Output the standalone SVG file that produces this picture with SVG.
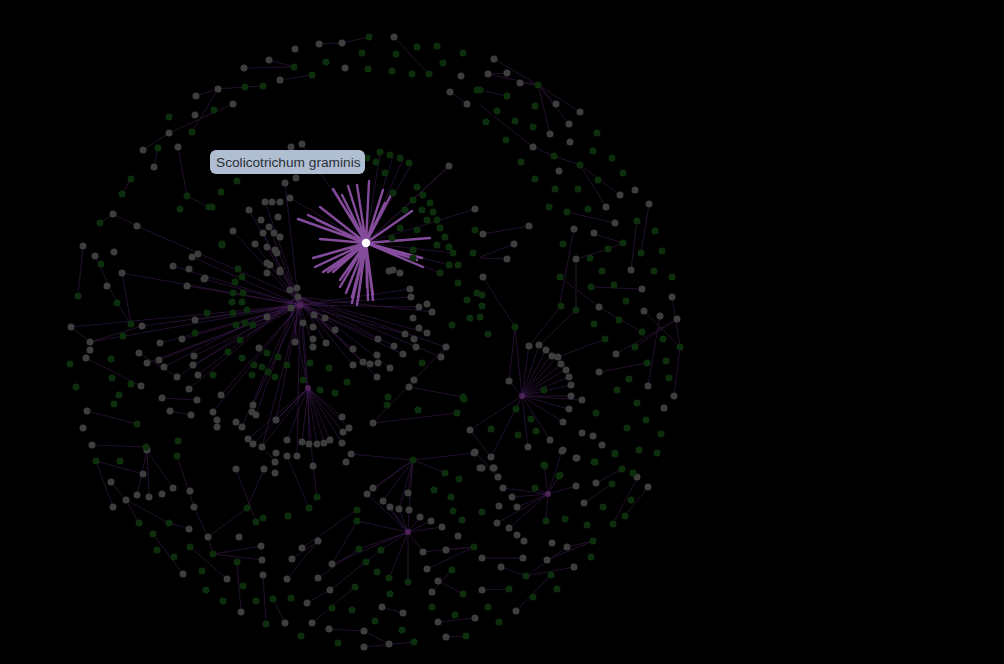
<svg xmlns="http://www.w3.org/2000/svg" width="1004" height="664" viewBox="0 0 1004 664">
<style>
.e{fill:none;stroke:#24102b;stroke-width:1}
.e2{fill:none;stroke:#4a2060;stroke-width:1;stroke-opacity:.48}
.h{fill:none;stroke:#a05cbc;stroke-width:2.4;stroke-opacity:.82;stroke-linecap:round}
.a circle{fill:#3e3e3e}
.b circle{fill:#0d2e0d}
.p circle{fill:#4e2458}
.lbl{font-family:"Liberation Sans",Arial,sans-serif;font-size:13.7px;fill:#2b2f36}
</style>
<rect width="1004" height="664" fill="#000"/>
<g id="connectors">
<path class="e" d="M244 68L294 67M319 44L342 43M342 43L369 37M218 89L245 87M196 96L218 89M218 89L192 132M233 104L169 133M169 133L143 150M178 147L187 196M187 196L209 207M113 214L100 223M113 214L137 226M394 37L427 72M450 92L467 104M449 166L366 243M494 59L538 85M488 74L538 85M507 73L488 74M520 83L538 85M538 85L580 112M538 85L569 124M538 85L550 134M538 85L556 104M480 90L507 96M480 105L533 147M533 147L554 156M554 156L580 165M580 165L620 195M580 165L606 207M567 212L615 223M529 226L483 234M649 204L641 253M637 221L631 270M480 257L514 244M480 258L507 259M483 277L515 327M515 327L509 381M574 229L560 303M576 259L576 310M576 259L608 249M608 249L623 243M594 234L623 243M591 287L642 289M560 277L599 307M599 307L642 332M529 346L561 306M539 346L576 310M558 357L605 339M616 354L677 319M635 347L677 319M680 347L672 297M644 311L680 347M660 316L648 386M599 372L647 363M680 347L674 396M83 246L78 296M95 256L117 303M122 273L131 324M117 303L131 324M71 327L90 342M90 342L142 326M86 358L141 386M139 353L177 377M87 411L137 424M92 445L146 447M96 461L143 474M96 461L113 507M147 450L137 495M147 450L149 497M147 450L173 488M111 482L126 500M126 500L139 523M126 500L169 523M169 523L189 529M177 456L194 507M194 507L208 537M208 537L213 554M213 554L261 546M213 554L262 560M208 537L247 508M247 508L264 469M153 534L183 574M190 547L227 579M237 562L241 612M263 575L266 624M236 469L256 522M313 466L317 497M287 456L309 508M302 548L357 510M332 564L357 521M318 578L359 549M330 590L381 550M382 607L403 613M364 631L389 644M364 647L414 642M329 629L364 631M285 623L273 599M312 623L355 587M423 552L474 547M446 550L474 547M427 569L474 547M438 581L463 594M438 622L475 618M446 637L466 636M432 592L452 570M516 611L551 575M526 576L567 547M567 547L593 541M526 576L574 567M547 560L593 541M596 483L622 469M613 524L637 478M625 516L648 487M584 503L612 484M292 559L318 541M287 579L318 541M307 603L330 590M262 447L275 461M196 400L162 398M170 411L191 415M482 558L523 558M482 590L509 589M501 567L526 576M475 452L498 477M470 430L491 457M441 357L446 347M414 380L446 347M409 387L463 397M373 423L414 380M373 423L457 413M122 194L131 179M154 167L158 148M245 87L263 86M280 80L312 75M269 60L294 67"/>
<path class="e2" d="M300 305L195 320M300 305L182 339M300 305L160 343M300 305L142 326M300 305L173 266M300 305L192 257M300 305L204 279M300 305L187 286M300 305L221 395M300 305L213 412M300 305L253 405M300 305L194 356M300 305L193 365M300 305L159 360M300 305L147 363M300 305L90 342M300 305L71 327M300 305L122 273M300 305L233 231M300 305L263 233M300 305L269 227M300 305L255 244M300 305L267 247M300 305L262 447M300 305L276 420M300 305L313 466M300 305L297 456M300 305L335 330M300 305L353 349M300 305L378 339M300 305L403 354M300 305L405 334M300 305L419 307M300 305L411 297M300 305L410 289M298 297L249 210M298 297L265 202M298 297L285 183M298 297L137 226M298 297L164 367M298 297L177 377M298 297L198 375M298 297L189 389M298 297L242 427M298 297L256 415M298 297L377 377M298 297L390 368M298 297L394 346M298 297L427 333M298 297L432 312M298 297L446 347M298 297L441 357M298 297L363 362M298 297L353 365M298 297L326 343M298 297L313 347M298 297L295 342M308 388L287 440M308 388L302 442M308 388L309 444M308 388L317 444M308 388L324 443M308 388L330 440M308 388L342 443M308 388L343 432M308 388L349 428M308 388L342 417M308 388L276 420M308 388L262 447M308 388L253 444M308 388L248 439M308 388L303 323M308 388L291 308M522 396L529 346M522 396L539 345M522 396L546 350M522 396L551 355M522 396L558 356M522 396L561 364M522 396L566 369M522 396L569 377M522 396L571 385M522 396L571 396M522 396L582 400M522 396L569 409M522 396L563 422M522 396L509 381M522 396L515 327M522 396L470 430M522 396L528 447M522 396L550 440M522 396L491 457M408 532L367 494M408 532L383 501M408 532L390 507M408 532L399 509M408 532L409 510M408 532L420 517M408 532L431 521M408 532L442 527M408 532L423 552M408 532L359 549M408 532L381 550M408 532L389 578M408 532L408 582M408 532L357 521M408 532L332 564M413 460L373 488M413 460L383 501M413 460L399 509M413 460L409 510M413 460L408 493M413 460L367 494M413 460L351 454M413 460L474 453M413 460L445 473M548 494L535 488M548 494L503 488M548 494L576 486M548 494L559 476M548 494L544 465M548 494L512 497M548 494L517 507M548 494L562 451M548 494L546 521M548 494L509 528M548 494L497 523M366 243L380 153M366 243L393 156M366 243L403 159M366 243L411 165M366 243L449 166M366 243L453 253M366 243L449 265M366 243L440 273M366 243L475 209M366 243L302 144M366 243L290 198"/>
<path class="h" d="M366 243L369 181M366 243L357 185M366 243L348 186M366 243L333 189M366 243L342 195M366 243L383 190M366 243L393 191M366 243L385 203M366 243L320 207M366 243L412 211M366 243L298 219M366 243L308 215M366 243L317 220M366 243L430 238M366 243L320 239M366 243L422 258M366 243L423 267M366 243L313 258M366 243L315 267M366 243L323 272M366 243L333 272M366 243L340 287M366 243L352 297M366 243L357 305M366 243L368 300M366 243L373 300M366 243L367 287M366 243L352 303M366 243L358 300M366 243L373 295M366 243L346 293M366 243L340 280M366 243L317 257M366 243L328 272M366 243L417 260"/>
</g>
<g id="nodes">
<g id="g1" class="a"><circle cx="295" cy="49" r="3.5"/></g>
<g id="g2" class="a"><circle cx="319" cy="44" r="3.5"/></g>
<g id="g3" class="a"><circle cx="342" cy="43" r="3.5"/></g>
<g id="g4" class="a"><circle cx="269" cy="60" r="3.5"/></g>
<g id="g5" class="a"><circle cx="244" cy="68" r="3.5"/></g>
<g id="g6" class="a"><circle cx="345" cy="68" r="3.5"/></g>
<g id="g7" class="a"><circle cx="280" cy="80" r="3.5"/></g>
<g id="g8" class="a"><circle cx="218" cy="89" r="3.5"/></g>
<g id="g9" class="a"><circle cx="196" cy="96" r="3.5"/></g>
<g id="g10" class="a"><circle cx="233" cy="104" r="3.5"/></g>
<g id="g11" class="a"><circle cx="195" cy="115" r="3.5"/></g>
<g id="g12" class="a"><circle cx="169" cy="133" r="3.5"/></g>
<g id="g13" class="a"><circle cx="143" cy="150" r="3.5"/></g>
<g id="g14" class="a"><circle cx="178" cy="147" r="3.5"/></g>
<g id="g15" class="a"><circle cx="154" cy="167" r="3.5"/></g>
<g id="g16" class="a"><circle cx="113" cy="214" r="3.5"/></g>
<g id="g17" class="a"><circle cx="137" cy="226" r="3.5"/></g>
<g id="g18" class="a"><circle cx="291" cy="147" r="3.5"/></g>
<g id="g19" class="a"><circle cx="302" cy="144" r="3.5"/></g>
<g id="g20" class="a"><circle cx="285" cy="183" r="3.5"/></g>
<g id="g21" class="a"><circle cx="296" cy="178" r="3.5"/></g>
<g id="g22" class="a"><circle cx="265" cy="202" r="3.5"/></g>
<g id="g23" class="a"><circle cx="272" cy="202" r="3.5"/></g>
<g id="g24" class="a"><circle cx="280" cy="202" r="3.5"/></g>
<g id="g25" class="a"><circle cx="290" cy="198" r="3.5"/></g>
<g id="g26" class="a"><circle cx="249" cy="210" r="3.5"/></g>
<g id="g27" class="a"><circle cx="261" cy="220" r="3.5"/></g>
<g id="g28" class="a"><circle cx="278" cy="217" r="3.5"/></g>
<g id="g29" class="a"><circle cx="394" cy="37" r="3.5"/></g>
<g id="g30" class="a"><circle cx="461" cy="76" r="3.5"/></g>
<g id="g31" class="a"><circle cx="450" cy="92" r="3.5"/></g>
<g id="g32" class="a"><circle cx="467" cy="104" r="3.5"/></g>
<g id="g33" class="a"><circle cx="449" cy="166" r="3.5"/></g>
<g id="g34" class="a"><circle cx="475" cy="209" r="3.5"/></g>
<g id="g35" class="a"><circle cx="494" cy="59" r="3.5"/></g>
<g id="g36" class="a"><circle cx="488" cy="74" r="3.5"/></g>
<g id="g37" class="a"><circle cx="507" cy="73" r="3.5"/></g>
<g id="g38" class="a"><circle cx="520" cy="83" r="3.5"/></g>
<g id="g39" class="a"><circle cx="556" cy="104" r="3.5"/></g>
<g id="g40" class="a"><circle cx="580" cy="112" r="3.5"/></g>
<g id="g41" class="a"><circle cx="569" cy="124" r="3.5"/></g>
<g id="g42" class="a"><circle cx="550" cy="134" r="3.5"/></g>
<g id="g43" class="a"><circle cx="570" cy="142" r="3.5"/></g>
<g id="g44" class="a"><circle cx="533" cy="147" r="3.5"/></g>
<g id="g45" class="a"><circle cx="559" cy="171" r="3.5"/></g>
<g id="g46" class="a"><circle cx="620" cy="195" r="3.5"/></g>
<g id="g47" class="a"><circle cx="635" cy="190" r="3.5"/></g>
<g id="g48" class="a"><circle cx="649" cy="204" r="3.5"/></g>
<g id="g49" class="a"><circle cx="606" cy="207" r="3.5"/></g>
<g id="g50" class="a"><circle cx="615" cy="223" r="3.5"/></g>
<g id="g51" class="a"><circle cx="529" cy="226" r="3.5"/></g>
<g id="g52" class="a"><circle cx="574" cy="229" r="3.5"/></g>
<g id="g53" class="a"><circle cx="594" cy="233" r="3.5"/></g>
<g id="g54" class="a"><circle cx="483" cy="234" r="3.5"/></g>
<g id="g55" class="a"><circle cx="514" cy="244" r="3.5"/></g>
<g id="g56" class="a"><circle cx="507" cy="259" r="3.5"/></g>
<g id="g57" class="a"><circle cx="576" cy="259" r="3.5"/></g>
<g id="g58" class="a"><circle cx="631" cy="270" r="3.5"/></g>
<g id="g59" class="a"><circle cx="642" cy="289" r="3.5"/></g>
<g id="g60" class="a"><circle cx="483" cy="277" r="3.5"/></g>
<g id="g61" class="a"><circle cx="599" cy="307" r="3.5"/></g>
<g id="g62" class="a"><circle cx="672" cy="297" r="3.5"/></g>
<g id="g63" class="a"><circle cx="644" cy="311" r="3.5"/></g>
<g id="g64" class="a"><circle cx="660" cy="316" r="3.5"/></g>
<g id="g65" class="a"><circle cx="677" cy="319" r="3.5"/></g>
<g id="g66" class="a"><circle cx="616" cy="354" r="3.5"/></g>
<g id="g67" class="a"><circle cx="599" cy="372" r="3.5"/></g>
<g id="g68" class="a"><circle cx="648" cy="386" r="3.5"/></g>
<g id="g69" class="a"><circle cx="674" cy="396" r="3.5"/></g>
<g id="g70" class="a"><circle cx="664" cy="408" r="3.5"/></g>
<g id="g71" class="a"><circle cx="509" cy="381" r="3.5"/></g>
<g id="g72" class="a"><circle cx="529" cy="346" r="3.5"/></g>
<g id="g73" class="a"><circle cx="539" cy="345" r="3.5"/></g>
<g id="g74" class="a"><circle cx="546" cy="350" r="3.5"/></g>
<g id="g75" class="a"><circle cx="552" cy="356" r="3.5"/></g>
<g id="g76" class="a"><circle cx="558" cy="357" r="3.5"/></g>
<g id="g77" class="a"><circle cx="561" cy="364" r="3.5"/></g>
<g id="g78" class="a"><circle cx="566" cy="370" r="3.5"/></g>
<g id="g79" class="a"><circle cx="569" cy="377" r="3.5"/></g>
<g id="g80" class="a"><circle cx="571" cy="385" r="3.5"/></g>
<g id="g81" class="a"><circle cx="571" cy="396" r="3.5"/></g>
<g id="g82" class="a"><circle cx="582" cy="400" r="3.5"/></g>
<g id="g83" class="a"><circle cx="569" cy="409" r="3.5"/></g>
<g id="g84" class="a"><circle cx="563" cy="422" r="3.5"/></g>
<g id="g85" class="a"><circle cx="470" cy="430" r="3.5"/></g>
<g id="g86" class="a"><circle cx="550" cy="440" r="3.5"/></g>
<g id="g87" class="a"><circle cx="528" cy="447" r="3.5"/></g>
<g id="g88" class="a"><circle cx="582" cy="433" r="3.5"/></g>
<g id="g89" class="a"><circle cx="593" cy="436" r="3.5"/></g>
<g id="g90" class="a"><circle cx="602" cy="445" r="3.5"/></g>
<g id="g91" class="a"><circle cx="563" cy="450" r="3.5"/></g>
<g id="g92" class="a"><circle cx="576" cy="458" r="3.5"/></g>
<g id="g93" class="a"><circle cx="475" cy="452" r="3.5"/></g>
<g id="g94" class="a"><circle cx="491" cy="457" r="3.5"/></g>
<g id="g95" class="a"><circle cx="480" cy="468" r="3.5"/></g>
<g id="g96" class="a"><circle cx="494" cy="468" r="3.5"/></g>
<g id="g97" class="a"><circle cx="498" cy="477" r="3.5"/></g>
<g id="g98" class="a"><circle cx="637" cy="477" r="3.5"/></g>
<g id="g99" class="a"><circle cx="83" cy="246" r="3.5"/></g>
<g id="g100" class="a"><circle cx="95" cy="256" r="3.5"/></g>
<g id="g101" class="a"><circle cx="114" cy="252" r="3.5"/></g>
<g id="g102" class="a"><circle cx="122" cy="273" r="3.5"/></g>
<g id="g103" class="a"><circle cx="107" cy="286" r="3.5"/></g>
<g id="g104" class="a"><circle cx="71" cy="327" r="3.5"/></g>
<g id="g105" class="a"><circle cx="90" cy="342" r="3.5"/></g>
<g id="g106" class="a"><circle cx="90" cy="350" r="3.5"/></g>
<g id="g107" class="a"><circle cx="86" cy="358" r="3.5"/></g>
<g id="g108" class="a"><circle cx="142" cy="326" r="3.5"/></g>
<g id="g109" class="a"><circle cx="139" cy="353" r="3.5"/></g>
<g id="g110" class="a"><circle cx="147" cy="363" r="3.5"/></g>
<g id="g111" class="a"><circle cx="160" cy="343" r="3.5"/></g>
<g id="g112" class="a"><circle cx="159" cy="360" r="3.5"/></g>
<g id="g113" class="a"><circle cx="164" cy="367" r="3.5"/></g>
<g id="g114" class="a"><circle cx="177" cy="377" r="3.5"/></g>
<g id="g115" class="a"><circle cx="182" cy="339" r="3.5"/></g>
<g id="g116" class="a"><circle cx="141" cy="386" r="3.5"/></g>
<g id="g117" class="a"><circle cx="195" cy="320" r="3.5"/></g>
<g id="g118" class="a"><circle cx="194" cy="356" r="3.5"/></g>
<g id="g119" class="a"><circle cx="193" cy="365" r="3.5"/></g>
<g id="g120" class="a"><circle cx="198" cy="375" r="3.5"/></g>
<g id="g121" class="a"><circle cx="189" cy="389" r="3.5"/></g>
<g id="g122" class="a"><circle cx="197" cy="400" r="3.5"/></g>
<g id="g123" class="a"><circle cx="162" cy="398" r="3.5"/></g>
<g id="g124" class="a"><circle cx="170" cy="411" r="3.5"/></g>
<g id="g125" class="a"><circle cx="191" cy="415" r="3.5"/></g>
<g id="g126" class="a"><circle cx="87" cy="411" r="3.5"/></g>
<g id="g127" class="a"><circle cx="83" cy="428" r="3.5"/></g>
<g id="g128" class="a"><circle cx="92" cy="445" r="3.5"/></g>
<g id="g129" class="a"><circle cx="173" cy="266" r="3.5"/></g>
<g id="g130" class="a"><circle cx="192" cy="257" r="3.5"/></g>
<g id="g131" class="a"><circle cx="198" cy="254" r="3.5"/></g>
<g id="g132" class="a"><circle cx="189" cy="269" r="3.5"/></g>
<g id="g133" class="a"><circle cx="204" cy="279" r="3.5"/></g>
<g id="g134" class="a"><circle cx="187" cy="286" r="3.5"/></g>
<g id="g135" class="a"><circle cx="221" cy="395" r="3.5"/></g>
<g id="g136" class="a"><circle cx="213" cy="412" r="3.5"/></g>
<g id="g137" class="a"><circle cx="217" cy="420" r="3.5"/></g>
<g id="g138" class="a"><circle cx="217" cy="427" r="3.5"/></g>
<g id="g139" class="a"><circle cx="236" cy="422" r="3.5"/></g>
<g id="g140" class="a"><circle cx="242" cy="427" r="3.5"/></g>
<g id="g141" class="a"><circle cx="253" cy="405" r="3.5"/></g>
<g id="g142" class="a"><circle cx="252" cy="412" r="3.5"/></g>
<g id="g143" class="a"><circle cx="256" cy="415" r="3.5"/></g>
<g id="g144" class="a"><circle cx="248" cy="439" r="3.5"/></g>
<g id="g145" class="a"><circle cx="253" cy="444" r="3.5"/></g>
<g id="g146" class="a"><circle cx="259" cy="348" r="3.5"/></g>
<g id="g147" class="a"><circle cx="255" cy="244" r="3.5"/></g>
<g id="g148" class="a"><circle cx="267" cy="247" r="3.5"/></g>
<g id="g149" class="a"><circle cx="267" cy="263" r="3.5"/></g>
<g id="g150" class="a"><circle cx="267" cy="273" r="3.5"/></g>
<g id="g151" class="a"><circle cx="267" cy="317" r="3.5"/></g>
<g id="g152" class="a"><circle cx="262" cy="447" r="3.5"/></g>
<g id="g153" class="a"><circle cx="233" cy="231" r="3.5"/></g>
<g id="g154" class="a"><circle cx="263" cy="233" r="3.5"/></g>
<g id="g155" class="a"><circle cx="274" cy="233" r="3.5"/></g>
<g id="g156" class="a"><circle cx="280" cy="237" r="3.5"/></g>
<g id="g157" class="a"><circle cx="277" cy="253" r="3.5"/></g>
<g id="g158" class="a"><circle cx="280" cy="270" r="3.5"/></g>
<g id="g159" class="a"><circle cx="297" cy="288" r="3.5"/></g>
<g id="g160" class="a"><circle cx="205" cy="278" r="3.5"/></g>
<g id="g161" class="a"><circle cx="393" cy="270" r="3.5"/></g>
<g id="g162" class="a"><circle cx="400" cy="273" r="3.5"/></g>
<g id="g163" class="a"><circle cx="290" cy="290" r="3.5"/></g>
<g id="g164" class="a"><circle cx="269" cy="227" r="3.5"/></g>
<g id="g165" class="a"><circle cx="298" cy="297" r="3.5"/></g>
<g id="g166" class="a"><circle cx="291" cy="308" r="3.5"/></g>
<g id="g167" class="a"><circle cx="303" cy="323" r="3.5"/></g>
<g id="g168" class="a"><circle cx="314" cy="315" r="3.5"/></g>
<g id="g169" class="a"><circle cx="325" cy="318" r="3.5"/></g>
<g id="g170" class="a"><circle cx="313" cy="327" r="3.5"/></g>
<g id="g171" class="a"><circle cx="335" cy="330" r="3.5"/></g>
<g id="g172" class="a"><circle cx="295" cy="342" r="3.5"/></g>
<g id="g173" class="a"><circle cx="313" cy="339" r="3.5"/></g>
<g id="g174" class="a"><circle cx="313" cy="347" r="3.5"/></g>
<g id="g175" class="a"><circle cx="326" cy="343" r="3.5"/></g>
<g id="g176" class="a"><circle cx="353" cy="349" r="3.5"/></g>
<g id="g177" class="a"><circle cx="378" cy="339" r="3.5"/></g>
<g id="g178" class="a"><circle cx="377" cy="355" r="3.5"/></g>
<g id="g179" class="a"><circle cx="353" cy="365" r="3.5"/></g>
<g id="g180" class="a"><circle cx="363" cy="362" r="3.5"/></g>
<g id="g181" class="a"><circle cx="370" cy="364" r="3.5"/></g>
<g id="g182" class="a"><circle cx="378" cy="363" r="3.5"/></g>
<g id="g183" class="a"><circle cx="390" cy="368" r="3.5"/></g>
<g id="g184" class="a"><circle cx="394" cy="346" r="3.5"/></g>
<g id="g185" class="a"><circle cx="377" cy="377" r="3.5"/></g>
<g id="g186" class="a"><circle cx="403" cy="354" r="3.5"/></g>
<g id="g187" class="a"><circle cx="405" cy="334" r="3.5"/></g>
<g id="g188" class="a"><circle cx="414" cy="339" r="3.5"/></g>
<g id="g189" class="a"><circle cx="416" cy="347" r="3.5"/></g>
<g id="g190" class="a"><circle cx="419" cy="328" r="3.5"/></g>
<g id="g191" class="a"><circle cx="427" cy="333" r="3.5"/></g>
<g id="g192" class="a"><circle cx="413" cy="318" r="3.5"/></g>
<g id="g193" class="a"><circle cx="419" cy="307" r="3.5"/></g>
<g id="g194" class="a"><circle cx="427" cy="304" r="3.5"/></g>
<g id="g195" class="a"><circle cx="432" cy="312" r="3.5"/></g>
<g id="g196" class="a"><circle cx="411" cy="297" r="3.5"/></g>
<g id="g197" class="a"><circle cx="410" cy="289" r="3.5"/></g>
<g id="g198" class="a"><circle cx="389" cy="271" r="3.5"/></g>
<g id="g199" class="a"><circle cx="446" cy="347" r="3.5"/></g>
<g id="g200" class="a"><circle cx="441" cy="357" r="3.5"/></g>
<g id="g201" class="a"><circle cx="414" cy="380" r="3.5"/></g>
<g id="g202" class="a"><circle cx="409" cy="387" r="3.5"/></g>
<g id="g203" class="a"><circle cx="373" cy="423" r="3.5"/></g>
<g id="g204" class="a"><circle cx="342" cy="417" r="3.5"/></g>
<g id="g205" class="a"><circle cx="343" cy="432" r="3.5"/></g>
<g id="g206" class="a"><circle cx="349" cy="428" r="3.5"/></g>
<g id="g207" class="a"><circle cx="342" cy="443" r="3.5"/></g>
<g id="g208" class="a"><circle cx="330" cy="440" r="3.5"/></g>
<g id="g209" class="a"><circle cx="324" cy="443" r="3.5"/></g>
<g id="g210" class="a"><circle cx="317" cy="444" r="3.5"/></g>
<g id="g211" class="a"><circle cx="309" cy="444" r="3.5"/></g>
<g id="g212" class="a"><circle cx="302" cy="442" r="3.5"/></g>
<g id="g213" class="a"><circle cx="287" cy="440" r="3.5"/></g>
<g id="g214" class="a"><circle cx="276" cy="420" r="3.5"/></g>
<g id="g215" class="a"><circle cx="280" cy="272" r="3.5"/></g>
<g id="g216" class="a"><circle cx="270" cy="265" r="3.5"/></g>
<g id="g217" class="a"><circle cx="275" cy="250" r="3.5"/></g>
<g id="g218" class="a"><circle cx="143" cy="474" r="3.5"/></g>
<g id="g219" class="a"><circle cx="111" cy="482" r="3.5"/></g>
<g id="g220" class="a"><circle cx="126" cy="500" r="3.5"/></g>
<g id="g221" class="a"><circle cx="113" cy="507" r="3.5"/></g>
<g id="g222" class="a"><circle cx="137" cy="495" r="3.5"/></g>
<g id="g223" class="a"><circle cx="149" cy="497" r="3.5"/></g>
<g id="g224" class="a"><circle cx="162" cy="494" r="3.5"/></g>
<g id="g225" class="a"><circle cx="173" cy="488" r="3.5"/></g>
<g id="g226" class="a"><circle cx="190" cy="491" r="3.5"/></g>
<g id="g227" class="a"><circle cx="194" cy="507" r="3.5"/></g>
<g id="g228" class="a"><circle cx="189" cy="529" r="3.5"/></g>
<g id="g229" class="a"><circle cx="208" cy="537" r="3.5"/></g>
<g id="g230" class="a"><circle cx="239" cy="537" r="3.5"/></g>
<g id="g231" class="a"><circle cx="236" cy="469" r="3.5"/></g>
<g id="g232" class="a"><circle cx="264" cy="469" r="3.5"/></g>
<g id="g233" class="a"><circle cx="261" cy="546" r="3.5"/></g>
<g id="g234" class="a"><circle cx="262" cy="560" r="3.5"/></g>
<g id="g235" class="a"><circle cx="263" cy="575" r="3.5"/></g>
<g id="g236" class="a"><circle cx="227" cy="579" r="3.5"/></g>
<g id="g237" class="a"><circle cx="183" cy="574" r="3.5"/></g>
<g id="g238" class="a"><circle cx="241" cy="612" r="3.5"/></g>
<g id="g239" class="a"><circle cx="147" cy="450" r="3.5"/></g>
<g id="g240" class="a"><circle cx="276" cy="453" r="3.5"/></g>
<g id="g241" class="a"><circle cx="287" cy="456" r="3.5"/></g>
<g id="g242" class="a"><circle cx="297" cy="456" r="3.5"/></g>
<g id="g243" class="a"><circle cx="275" cy="462" r="3.5"/></g>
<g id="g244" class="a"><circle cx="275" cy="473" r="3.5"/></g>
<g id="g245" class="a"><circle cx="313" cy="466" r="3.5"/></g>
<g id="g246" class="a"><circle cx="351" cy="454" r="3.5"/></g>
<g id="g247" class="a"><circle cx="346" cy="462" r="3.5"/></g>
<g id="g248" class="a"><circle cx="367" cy="494" r="3.5"/></g>
<g id="g249" class="a"><circle cx="373" cy="488" r="3.5"/></g>
<g id="g250" class="a"><circle cx="383" cy="501" r="3.5"/></g>
<g id="g251" class="a"><circle cx="390" cy="507" r="3.5"/></g>
<g id="g252" class="a"><circle cx="399" cy="509" r="3.5"/></g>
<g id="g253" class="a"><circle cx="409" cy="510" r="3.5"/></g>
<g id="g254" class="a"><circle cx="408" cy="493" r="3.5"/></g>
<g id="g255" class="a"><circle cx="420" cy="517" r="3.5"/></g>
<g id="g256" class="a"><circle cx="431" cy="521" r="3.5"/></g>
<g id="g257" class="a"><circle cx="442" cy="527" r="3.5"/></g>
<g id="g258" class="a"><circle cx="458" cy="536" r="3.5"/></g>
<g id="g259" class="a"><circle cx="474" cy="453" r="3.5"/></g>
<g id="g260" class="a"><circle cx="318" cy="541" r="3.5"/></g>
<g id="g261" class="a"><circle cx="302" cy="548" r="3.5"/></g>
<g id="g262" class="a"><circle cx="292" cy="559" r="3.5"/></g>
<g id="g263" class="a"><circle cx="332" cy="564" r="3.5"/></g>
<g id="g264" class="a"><circle cx="318" cy="578" r="3.5"/></g>
<g id="g265" class="a"><circle cx="287" cy="579" r="3.5"/></g>
<g id="g266" class="a"><circle cx="330" cy="590" r="3.5"/></g>
<g id="g267" class="a"><circle cx="307" cy="603" r="3.5"/></g>
<g id="g268" class="a"><circle cx="285" cy="623" r="3.5"/></g>
<g id="g269" class="a"><circle cx="312" cy="623" r="3.5"/></g>
<g id="g270" class="a"><circle cx="329" cy="629" r="3.5"/></g>
<g id="g271" class="a"><circle cx="364" cy="631" r="3.5"/></g>
<g id="g272" class="a"><circle cx="364" cy="647" r="3.5"/></g>
<g id="g273" class="a"><circle cx="389" cy="644" r="3.5"/></g>
<g id="g274" class="a"><circle cx="382" cy="607" r="3.5"/></g>
<g id="g275" class="a"><circle cx="403" cy="613" r="3.5"/></g>
<g id="g276" class="a"><circle cx="423" cy="552" r="3.5"/></g>
<g id="g277" class="a"><circle cx="446" cy="550" r="3.5"/></g>
<g id="g278" class="a"><circle cx="427" cy="569" r="3.5"/></g>
<g id="g279" class="a"><circle cx="438" cy="581" r="3.5"/></g>
<g id="g280" class="a"><circle cx="432" cy="592" r="3.5"/></g>
<g id="g281" class="a"><circle cx="438" cy="622" r="3.5"/></g>
<g id="g282" class="a"><circle cx="446" cy="637" r="3.5"/></g>
<g id="g283" class="a"><circle cx="475" cy="618" r="3.5"/></g>
<g id="g284" class="a"><circle cx="482" cy="468" r="3.5"/></g>
<g id="g285" class="a"><circle cx="503" cy="488" r="3.5"/></g>
<g id="g286" class="a"><circle cx="512" cy="497" r="3.5"/></g>
<g id="g287" class="a"><circle cx="499" cy="506" r="3.5"/></g>
<g id="g288" class="a"><circle cx="517" cy="507" r="3.5"/></g>
<g id="g289" class="a"><circle cx="497" cy="523" r="3.5"/></g>
<g id="g290" class="a"><circle cx="509" cy="528" r="3.5"/></g>
<g id="g291" class="a"><circle cx="517" cy="535" r="3.5"/></g>
<g id="g292" class="a"><circle cx="524" cy="541" r="3.5"/></g>
<g id="g293" class="a"><circle cx="482" cy="558" r="3.5"/></g>
<g id="g294" class="a"><circle cx="523" cy="558" r="3.5"/></g>
<g id="g295" class="a"><circle cx="501" cy="567" r="3.5"/></g>
<g id="g296" class="a"><circle cx="552" cy="543" r="3.5"/></g>
<g id="g297" class="a"><circle cx="567" cy="547" r="3.5"/></g>
<g id="g298" class="a"><circle cx="547" cy="560" r="3.5"/></g>
<g id="g299" class="a"><circle cx="574" cy="567" r="3.5"/></g>
<g id="g300" class="a"><circle cx="482" cy="590" r="3.5"/></g>
<g id="g301" class="a"><circle cx="516" cy="611" r="3.5"/></g>
<g id="g302" class="a"><circle cx="577" cy="458" r="3.5"/></g>
<g id="g303" class="a"><circle cx="576" cy="486" r="3.5"/></g>
<g id="g304" class="a"><circle cx="596" cy="483" r="3.5"/></g>
<g id="g305" class="a"><circle cx="584" cy="503" r="3.5"/></g>
<g id="g306" class="a"><circle cx="648" cy="487" r="3.5"/></g>
<g id="g307" class="a"><circle cx="562" cy="451" r="3.5"/></g>
<g id="g308" class="a"><circle cx="493" cy="468" r="3.5"/></g>
<g id="k1" class="b"><circle cx="326" cy="62" r="3.5"/></g>
<g id="k2" class="b"><circle cx="294" cy="67" r="3.5"/></g>
<g id="k3" class="b"><circle cx="312" cy="75" r="3.5"/></g>
<g id="k4" class="b"><circle cx="245" cy="87" r="3.5"/></g>
<g id="k5" class="b"><circle cx="263" cy="86" r="3.5"/></g>
<g id="k6" class="b"><circle cx="214" cy="110" r="3.5"/></g>
<g id="k7" class="b"><circle cx="192" cy="132" r="3.5"/></g>
<g id="k8" class="b"><circle cx="169" cy="117" r="3.5"/></g>
<g id="k9" class="b"><circle cx="158" cy="148" r="3.5"/></g>
<g id="k10" class="b"><circle cx="131" cy="179" r="3.5"/></g>
<g id="k11" class="b"><circle cx="122" cy="194" r="3.5"/></g>
<g id="k12" class="b"><circle cx="100" cy="223" r="3.5"/></g>
<g id="k13" class="b"><circle cx="187" cy="196" r="3.5"/></g>
<g id="k14" class="b"><circle cx="180" cy="209" r="3.5"/></g>
<g id="k15" class="b"><circle cx="221" cy="192" r="3.5"/></g>
<g id="k16" class="b"><circle cx="237" cy="181" r="3.5"/></g>
<g id="k17" class="b"><circle cx="209" cy="207" r="3.5"/></g>
<g id="k18" class="b"><circle cx="369" cy="37" r="3.5"/></g>
<g id="k19" class="b"><circle cx="417" cy="47" r="3.5"/></g>
<g id="k20" class="b"><circle cx="437" cy="46" r="3.5"/></g>
<g id="k21" class="b"><circle cx="463" cy="53" r="3.5"/></g>
<g id="k22" class="b"><circle cx="396" cy="54" r="3.5"/></g>
<g id="k23" class="b"><circle cx="362" cy="53" r="3.5"/></g>
<g id="k24" class="b"><circle cx="368" cy="69" r="3.5"/></g>
<g id="k25" class="b"><circle cx="392" cy="71" r="3.5"/></g>
<g id="k26" class="b"><circle cx="412" cy="74" r="3.5"/></g>
<g id="k27" class="b"><circle cx="429" cy="74" r="3.5"/></g>
<g id="k28" class="b"><circle cx="443" cy="63" r="3.5"/></g>
<g id="k29" class="b"><circle cx="477" cy="90" r="3.5"/></g>
<g id="k30" class="b"><circle cx="380" cy="152" r="3.5"/></g>
<g id="k31" class="b"><circle cx="390" cy="155" r="3.5"/></g>
<g id="k32" class="b"><circle cx="400" cy="158" r="3.5"/></g>
<g id="k33" class="b"><circle cx="409" cy="163" r="3.5"/></g>
<g id="k34" class="b"><circle cx="367" cy="158" r="3.5"/></g>
<g id="k35" class="b"><circle cx="376" cy="162" r="3.5"/></g>
<g id="k36" class="b"><circle cx="417" cy="187" r="3.5"/></g>
<g id="k37" class="b"><circle cx="423" cy="195" r="3.5"/></g>
<g id="k38" class="b"><circle cx="430" cy="203" r="3.5"/></g>
<g id="k39" class="b"><circle cx="433" cy="212" r="3.5"/></g>
<g id="k40" class="b"><circle cx="437" cy="220" r="3.5"/></g>
<g id="k41" class="b"><circle cx="413" cy="200" r="3.5"/></g>
<g id="k42" class="b"><circle cx="422" cy="210" r="3.5"/></g>
<g id="k43" class="b"><circle cx="427" cy="220" r="3.5"/></g>
<g id="k44" class="b"><circle cx="417" cy="230" r="3.5"/></g>
<g id="k45" class="b"><circle cx="475" cy="230" r="3.5"/></g>
<g id="k46" class="b"><circle cx="538" cy="85" r="3.5"/></g>
<g id="k47" class="b"><circle cx="507" cy="96" r="3.5"/></g>
<g id="k48" class="b"><circle cx="480" cy="90" r="3.5"/></g>
<g id="k49" class="b"><circle cx="497" cy="111" r="3.5"/></g>
<g id="k50" class="b"><circle cx="535" cy="106" r="3.5"/></g>
<g id="k51" class="b"><circle cx="486" cy="122" r="3.5"/></g>
<g id="k52" class="b"><circle cx="515" cy="121" r="3.5"/></g>
<g id="k53" class="b"><circle cx="533" cy="127" r="3.5"/></g>
<g id="k54" class="b"><circle cx="506" cy="140" r="3.5"/></g>
<g id="k55" class="b"><circle cx="597" cy="133" r="3.5"/></g>
<g id="k56" class="b"><circle cx="593" cy="151" r="3.5"/></g>
<g id="k57" class="b"><circle cx="612" cy="158" r="3.5"/></g>
<g id="k58" class="b"><circle cx="623" cy="173" r="3.5"/></g>
<g id="k59" class="b"><circle cx="521" cy="162" r="3.5"/></g>
<g id="k60" class="b"><circle cx="554" cy="156" r="3.5"/></g>
<g id="k61" class="b"><circle cx="580" cy="165" r="3.5"/></g>
<g id="k62" class="b"><circle cx="598" cy="180" r="3.5"/></g>
<g id="k63" class="b"><circle cx="535" cy="179" r="3.5"/></g>
<g id="k64" class="b"><circle cx="555" cy="189" r="3.5"/></g>
<g id="k65" class="b"><circle cx="578" cy="189" r="3.5"/></g>
<g id="k66" class="b"><circle cx="549" cy="207" r="3.5"/></g>
<g id="k67" class="b"><circle cx="567" cy="212" r="3.5"/></g>
<g id="k68" class="b"><circle cx="588" cy="209" r="3.5"/></g>
<g id="k69" class="b"><circle cx="637" cy="221" r="3.5"/></g>
<g id="k70" class="b"><circle cx="655" cy="231" r="3.5"/></g>
<g id="k71" class="b"><circle cx="563" cy="244" r="3.5"/></g>
<g id="k72" class="b"><circle cx="608" cy="249" r="3.5"/></g>
<g id="k73" class="b"><circle cx="590" cy="258" r="3.5"/></g>
<g id="k74" class="b"><circle cx="623" cy="243" r="3.5"/></g>
<g id="k75" class="b"><circle cx="641" cy="253" r="3.5"/></g>
<g id="k76" class="b"><circle cx="662" cy="251" r="3.5"/></g>
<g id="k77" class="b"><circle cx="602" cy="271" r="3.5"/></g>
<g id="k78" class="b"><circle cx="654" cy="271" r="3.5"/></g>
<g id="k79" class="b"><circle cx="672" cy="277" r="3.5"/></g>
<g id="k80" class="b"><circle cx="560" cy="277" r="3.5"/></g>
<g id="k81" class="b"><circle cx="591" cy="287" r="3.5"/></g>
<g id="k82" class="b"><circle cx="614" cy="285" r="3.5"/></g>
<g id="k83" class="b"><circle cx="626" cy="301" r="3.5"/></g>
<g id="k84" class="b"><circle cx="482" cy="295" r="3.5"/></g>
<g id="k85" class="b"><circle cx="482" cy="306" r="3.5"/></g>
<g id="k86" class="b"><circle cx="480" cy="317" r="3.5"/></g>
<g id="k87" class="b"><circle cx="561" cy="306" r="3.5"/></g>
<g id="k88" class="b"><circle cx="576" cy="310" r="3.5"/></g>
<g id="k89" class="b"><circle cx="594" cy="324" r="3.5"/></g>
<g id="k90" class="b"><circle cx="619" cy="320" r="3.5"/></g>
<g id="k91" class="b"><circle cx="515" cy="327" r="3.5"/></g>
<g id="k92" class="b"><circle cx="488" cy="334" r="3.5"/></g>
<g id="k93" class="b"><circle cx="642" cy="332" r="3.5"/></g>
<g id="k94" class="b"><circle cx="605" cy="339" r="3.5"/></g>
<g id="k95" class="b"><circle cx="663" cy="339" r="3.5"/></g>
<g id="k96" class="b"><circle cx="635" cy="347" r="3.5"/></g>
<g id="k97" class="b"><circle cx="680" cy="347" r="3.5"/></g>
<g id="k98" class="b"><circle cx="647" cy="363" r="3.5"/></g>
<g id="k99" class="b"><circle cx="666" cy="361" r="3.5"/></g>
<g id="k100" class="b"><circle cx="629" cy="379" r="3.5"/></g>
<g id="k101" class="b"><circle cx="669" cy="378" r="3.5"/></g>
<g id="k102" class="b"><circle cx="617" cy="390" r="3.5"/></g>
<g id="k103" class="b"><circle cx="544" cy="390" r="3.5"/></g>
<g id="k104" class="b"><circle cx="637" cy="403" r="3.5"/></g>
<g id="k105" class="b"><circle cx="464" cy="399" r="3.5"/></g>
<g id="k106" class="b"><circle cx="596" cy="413" r="3.5"/></g>
<g id="k107" class="b"><circle cx="516" cy="409" r="3.5"/></g>
<g id="k108" class="b"><circle cx="531" cy="419" r="3.5"/></g>
<g id="k109" class="b"><circle cx="491" cy="429" r="3.5"/></g>
<g id="k110" class="b"><circle cx="536" cy="431" r="3.5"/></g>
<g id="k111" class="b"><circle cx="518" cy="435" r="3.5"/></g>
<g id="k112" class="b"><circle cx="627" cy="428" r="3.5"/></g>
<g id="k113" class="b"><circle cx="661" cy="434" r="3.5"/></g>
<g id="k114" class="b"><circle cx="646" cy="420" r="3.5"/></g>
<g id="k115" class="b"><circle cx="615" cy="453" r="3.5"/></g>
<g id="k116" class="b"><circle cx="545" cy="466" r="3.5"/></g>
<g id="k117" class="b"><circle cx="594" cy="462" r="3.5"/></g>
<g id="k118" class="b"><circle cx="560" cy="475" r="3.5"/></g>
<g id="k119" class="b"><circle cx="657" cy="453" r="3.5"/></g>
<g id="k120" class="b"><circle cx="633" cy="473" r="3.5"/></g>
<g id="k121" class="b"><circle cx="222" cy="245" r="3.5"/></g>
<g id="k122" class="b"><circle cx="101" cy="264" r="3.5"/></g>
<g id="k123" class="b"><circle cx="78" cy="296" r="3.5"/></g>
<g id="k124" class="b"><circle cx="117" cy="303" r="3.5"/></g>
<g id="k125" class="b"><circle cx="131" cy="324" r="3.5"/></g>
<g id="k126" class="b"><circle cx="123" cy="336" r="3.5"/></g>
<g id="k127" class="b"><circle cx="111" cy="359" r="3.5"/></g>
<g id="k128" class="b"><circle cx="70" cy="364" r="3.5"/></g>
<g id="k129" class="b"><circle cx="112" cy="378" r="3.5"/></g>
<g id="k130" class="b"><circle cx="131" cy="384" r="3.5"/></g>
<g id="k131" class="b"><circle cx="76" cy="387" r="3.5"/></g>
<g id="k132" class="b"><circle cx="119" cy="395" r="3.5"/></g>
<g id="k133" class="b"><circle cx="114" cy="404" r="3.5"/></g>
<g id="k134" class="b"><circle cx="207" cy="313" r="3.5"/></g>
<g id="k135" class="b"><circle cx="195" cy="333" r="3.5"/></g>
<g id="k136" class="b"><circle cx="137" cy="424" r="3.5"/></g>
<g id="k137" class="b"><circle cx="178" cy="441" r="3.5"/></g>
<g id="k138" class="b"><circle cx="146" cy="447" r="3.5"/></g>
<g id="k139" class="b"><circle cx="238" cy="269" r="3.5"/></g>
<g id="k140" class="b"><circle cx="235" cy="282" r="3.5"/></g>
<g id="k141" class="b"><circle cx="233" cy="293" r="3.5"/></g>
<g id="k142" class="b"><circle cx="243" cy="293" r="3.5"/></g>
<g id="k143" class="b"><circle cx="232" cy="302" r="3.5"/></g>
<g id="k144" class="b"><circle cx="242" cy="302" r="3.5"/></g>
<g id="k145" class="b"><circle cx="247" cy="310" r="3.5"/></g>
<g id="k146" class="b"><circle cx="233" cy="313" r="3.5"/></g>
<g id="k147" class="b"><circle cx="245" cy="323" r="3.5"/></g>
<g id="k148" class="b"><circle cx="236" cy="325" r="3.5"/></g>
<g id="k149" class="b"><circle cx="253" cy="325" r="3.5"/></g>
<g id="k150" class="b"><circle cx="240" cy="340" r="3.5"/></g>
<g id="k151" class="b"><circle cx="228" cy="352" r="3.5"/></g>
<g id="k152" class="b"><circle cx="242" cy="358" r="3.5"/></g>
<g id="k153" class="b"><circle cx="254" cy="365" r="3.5"/></g>
<g id="k154" class="b"><circle cx="262" cy="367" r="3.5"/></g>
<g id="k155" class="b"><circle cx="252" cy="375" r="3.5"/></g>
<g id="k156" class="b"><circle cx="268" cy="372" r="3.5"/></g>
<g id="k157" class="b"><circle cx="213" cy="375" r="3.5"/></g>
<g id="k158" class="b"><circle cx="267" cy="353" r="3.5"/></g>
<g id="k159" class="b"><circle cx="212" cy="207" r="3.5"/></g>
<g id="k160" class="b"><circle cx="222" cy="244" r="3.5"/></g>
<g id="k161" class="b"><circle cx="242" cy="277" r="3.5"/></g>
<g id="k162" class="b"><circle cx="440" cy="228" r="3.5"/></g>
<g id="k163" class="b"><circle cx="445" cy="237" r="3.5"/></g>
<g id="k164" class="b"><circle cx="449" cy="247" r="3.5"/></g>
<g id="k165" class="b"><circle cx="453" cy="253" r="3.5"/></g>
<g id="k166" class="b"><circle cx="449" cy="265" r="3.5"/></g>
<g id="k167" class="b"><circle cx="440" cy="273" r="3.5"/></g>
<g id="k168" class="b"><circle cx="413" cy="250" r="3.5"/></g>
<g id="k169" class="b"><circle cx="413" cy="258" r="3.5"/></g>
<g id="k170" class="b"><circle cx="392" cy="238" r="3.5"/></g>
<g id="k171" class="b"><circle cx="400" cy="228" r="3.5"/></g>
<g id="k172" class="b"><circle cx="405" cy="210" r="3.5"/></g>
<g id="k173" class="b"><circle cx="393" cy="193" r="3.5"/></g>
<g id="k174" class="b"><circle cx="385" cy="173" r="3.5"/></g>
<g id="k175" class="b"><circle cx="463" cy="397" r="3.5"/></g>
<g id="k176" class="b"><circle cx="457" cy="413" r="3.5"/></g>
<g id="k177" class="b"><circle cx="418" cy="410" r="3.5"/></g>
<g id="k178" class="b"><circle cx="388" cy="397" r="3.5"/></g>
<g id="k179" class="b"><circle cx="387" cy="405" r="3.5"/></g>
<g id="k180" class="b"><circle cx="335" cy="393" r="3.5"/></g>
<g id="k181" class="b"><circle cx="347" cy="382" r="3.5"/></g>
<g id="k182" class="b"><circle cx="320" cy="390" r="3.5"/></g>
<g id="k183" class="b"><circle cx="303" cy="380" r="3.5"/></g>
<g id="k184" class="b"><circle cx="275" cy="377" r="3.5"/></g>
<g id="k185" class="b"><circle cx="287" cy="365" r="3.5"/></g>
<g id="k186" class="b"><circle cx="278" cy="357" r="3.5"/></g>
<g id="k187" class="b"><circle cx="310" cy="363" r="3.5"/></g>
<g id="k188" class="b"><circle cx="329" cy="368" r="3.5"/></g>
<g id="k189" class="b"><circle cx="422" cy="363" r="3.5"/></g>
<g id="k190" class="b"><circle cx="458" cy="283" r="3.5"/></g>
<g id="k191" class="b"><circle cx="467" cy="300" r="3.5"/></g>
<g id="k192" class="b"><circle cx="470" cy="318" r="3.5"/></g>
<g id="k193" class="b"><circle cx="452" cy="325" r="3.5"/></g>
<g id="k194" class="b"><circle cx="477" cy="293" r="3.5"/></g>
<g id="k195" class="b"><circle cx="458" cy="265" r="3.5"/></g>
<g id="k196" class="b"><circle cx="473" cy="253" r="3.5"/></g>
<g id="k197" class="b"><circle cx="437" cy="245" r="3.5"/></g>
<g id="k198" class="b"><circle cx="96" cy="461" r="3.5"/></g>
<g id="k199" class="b"><circle cx="120" cy="461" r="3.5"/></g>
<g id="k200" class="b"><circle cx="177" cy="456" r="3.5"/></g>
<g id="k201" class="b"><circle cx="139" cy="523" r="3.5"/></g>
<g id="k202" class="b"><circle cx="169" cy="523" r="3.5"/></g>
<g id="k203" class="b"><circle cx="153" cy="534" r="3.5"/></g>
<g id="k204" class="b"><circle cx="157" cy="550" r="3.5"/></g>
<g id="k205" class="b"><circle cx="174" cy="557" r="3.5"/></g>
<g id="k206" class="b"><circle cx="190" cy="547" r="3.5"/></g>
<g id="k207" class="b"><circle cx="213" cy="554" r="3.5"/></g>
<g id="k208" class="b"><circle cx="202" cy="571" r="3.5"/></g>
<g id="k209" class="b"><circle cx="206" cy="590" r="3.5"/></g>
<g id="k210" class="b"><circle cx="223" cy="601" r="3.5"/></g>
<g id="k211" class="b"><circle cx="237" cy="562" r="3.5"/></g>
<g id="k212" class="b"><circle cx="243" cy="586" r="3.5"/></g>
<g id="k213" class="b"><circle cx="256" cy="601" r="3.5"/></g>
<g id="k214" class="b"><circle cx="266" cy="624" r="3.5"/></g>
<g id="k215" class="b"><circle cx="247" cy="508" r="3.5"/></g>
<g id="k216" class="b"><circle cx="256" cy="522" r="3.5"/></g>
<g id="k217" class="b"><circle cx="263" cy="518" r="3.5"/></g>
<g id="k218" class="b"><circle cx="413" cy="460" r="3.5"/></g>
<g id="k219" class="b"><circle cx="317" cy="497" r="3.5"/></g>
<g id="k220" class="b"><circle cx="309" cy="508" r="3.5"/></g>
<g id="k221" class="b"><circle cx="288" cy="516" r="3.5"/></g>
<g id="k222" class="b"><circle cx="357" cy="510" r="3.5"/></g>
<g id="k223" class="b"><circle cx="357" cy="521" r="3.5"/></g>
<g id="k224" class="b"><circle cx="359" cy="549" r="3.5"/></g>
<g id="k225" class="b"><circle cx="381" cy="550" r="3.5"/></g>
<g id="k226" class="b"><circle cx="366" cy="562" r="3.5"/></g>
<g id="k227" class="b"><circle cx="377" cy="572" r="3.5"/></g>
<g id="k228" class="b"><circle cx="389" cy="578" r="3.5"/></g>
<g id="k229" class="b"><circle cx="408" cy="582" r="3.5"/></g>
<g id="k230" class="b"><circle cx="355" cy="587" r="3.5"/></g>
<g id="k231" class="b"><circle cx="390" cy="594" r="3.5"/></g>
<g id="k232" class="b"><circle cx="273" cy="599" r="3.5"/></g>
<g id="k233" class="b"><circle cx="291" cy="598" r="3.5"/></g>
<g id="k234" class="b"><circle cx="332" cy="608" r="3.5"/></g>
<g id="k235" class="b"><circle cx="352" cy="610" r="3.5"/></g>
<g id="k236" class="b"><circle cx="375" cy="621" r="3.5"/></g>
<g id="k237" class="b"><circle cx="402" cy="630" r="3.5"/></g>
<g id="k238" class="b"><circle cx="301" cy="636" r="3.5"/></g>
<g id="k239" class="b"><circle cx="338" cy="643" r="3.5"/></g>
<g id="k240" class="b"><circle cx="414" cy="642" r="3.5"/></g>
<g id="k241" class="b"><circle cx="445" cy="473" r="3.5"/></g>
<g id="k242" class="b"><circle cx="459" cy="479" r="3.5"/></g>
<g id="k243" class="b"><circle cx="434" cy="490" r="3.5"/></g>
<g id="k244" class="b"><circle cx="451" cy="497" r="3.5"/></g>
<g id="k245" class="b"><circle cx="453" cy="511" r="3.5"/></g>
<g id="k246" class="b"><circle cx="462" cy="520" r="3.5"/></g>
<g id="k247" class="b"><circle cx="474" cy="547" r="3.5"/></g>
<g id="k248" class="b"><circle cx="452" cy="570" r="3.5"/></g>
<g id="k249" class="b"><circle cx="463" cy="594" r="3.5"/></g>
<g id="k250" class="b"><circle cx="432" cy="607" r="3.5"/></g>
<g id="k251" class="b"><circle cx="455" cy="615" r="3.5"/></g>
<g id="k252" class="b"><circle cx="466" cy="636" r="3.5"/></g>
<g id="k253" class="b"><circle cx="544" cy="465" r="3.5"/></g>
<g id="k254" class="b"><circle cx="559" cy="476" r="3.5"/></g>
<g id="k255" class="b"><circle cx="595" cy="462" r="3.5"/></g>
<g id="k256" class="b"><circle cx="622" cy="469" r="3.5"/></g>
<g id="k257" class="b"><circle cx="612" cy="484" r="3.5"/></g>
<g id="k258" class="b"><circle cx="535" cy="488" r="3.5"/></g>
<g id="k259" class="b"><circle cx="631" cy="500" r="3.5"/></g>
<g id="k260" class="b"><circle cx="603" cy="507" r="3.5"/></g>
<g id="k261" class="b"><circle cx="625" cy="516" r="3.5"/></g>
<g id="k262" class="b"><circle cx="613" cy="524" r="3.5"/></g>
<g id="k263" class="b"><circle cx="565" cy="519" r="3.5"/></g>
<g id="k264" class="b"><circle cx="546" cy="521" r="3.5"/></g>
<g id="k265" class="b"><circle cx="587" cy="525" r="3.5"/></g>
<g id="k266" class="b"><circle cx="593" cy="541" r="3.5"/></g>
<g id="k267" class="b"><circle cx="591" cy="557" r="3.5"/></g>
<g id="k268" class="b"><circle cx="526" cy="576" r="3.5"/></g>
<g id="k269" class="b"><circle cx="551" cy="575" r="3.5"/></g>
<g id="k270" class="b"><circle cx="509" cy="589" r="3.5"/></g>
<g id="k271" class="b"><circle cx="533" cy="597" r="3.5"/></g>
<g id="k272" class="b"><circle cx="557" cy="589" r="3.5"/></g>
<g id="k273" class="b"><circle cx="488" cy="607" r="3.5"/></g>
<g id="k274" class="b"><circle cx="499" cy="622" r="3.5"/></g>
<g id="k275" class="b"><circle cx="482" cy="512" r="3.5"/></g>
<g id="k276" class="b"><circle cx="639" cy="450" r="3.5"/></g>
<g id="k277" class="b"><circle cx="615" cy="454" r="3.5"/></g>
<g id="p1" class="p"><circle cx="300" cy="305" r="3.5"/></g>
<g id="p2" class="p"><circle cx="308" cy="388" r="3"/></g>
<g id="p3" class="p"><circle cx="522" cy="396" r="3"/></g>
<g id="p4" class="p"><circle cx="408" cy="532" r="3"/></g>
<g id="p5" class="p"><circle cx="548" cy="494" r="3"/></g>
<g id="hub"><circle cx="366" cy="243" r="4.2" fill="#ffffff"/></g>
</g>
<g id="tooltip">
<rect x="210" y="150" width="155" height="24" rx="6" fill="#b0bed2"/>
<text class="lbl" x="216" y="166.5">Scolicotrichum graminis</text>
</g>
</svg>
